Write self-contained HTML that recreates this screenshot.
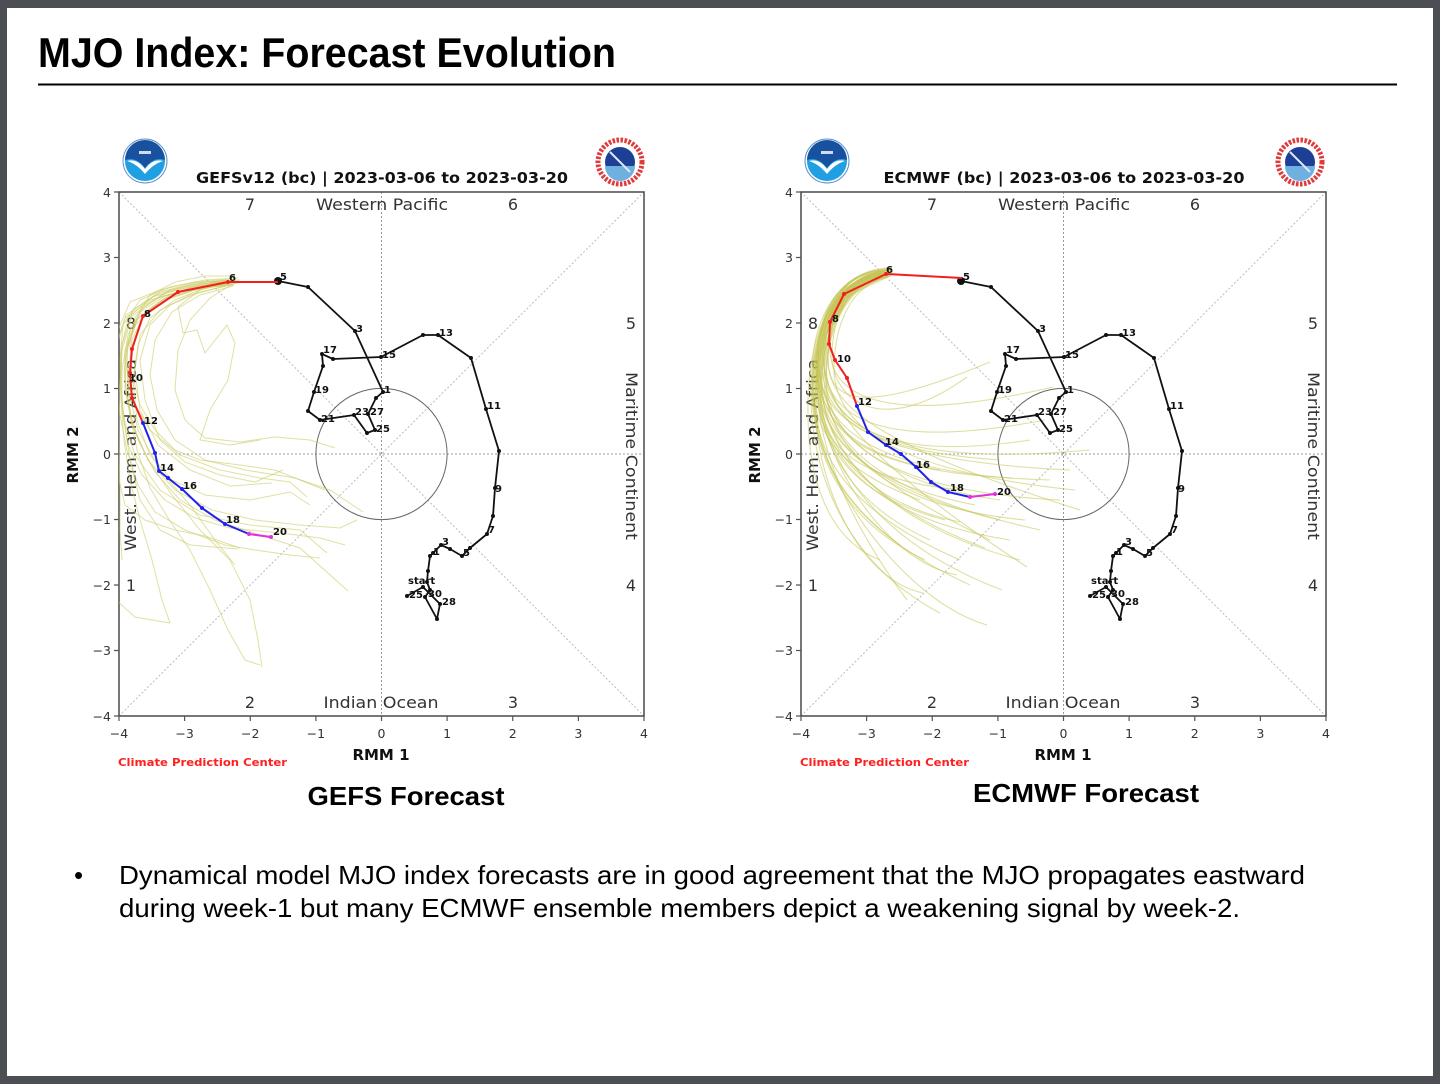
<!DOCTYPE html>
<html><head><meta charset="utf-8"><style>html,body{margin:0;padding:0;background:#4b4f53}svg{display:block}</style></head>
<body>
<svg width="1440" height="1084" viewBox="0 0 1440 1084" xmlns="http://www.w3.org/2000/svg">
<defs>
<clipPath id="cl"><rect x="119" y="192" width="525" height="524"/></clipPath>
<clipPath id="cr"><rect x="801" y="192" width="525" height="524"/></clipPath>
</defs>
<rect x="0" y="0" width="1440" height="1084" fill="#4b4f53"/>
<rect x="7" y="8" width="1426" height="1068" fill="#ffffff"/>

<text x="38" y="67" font-family="'Liberation Sans', Arial, sans-serif" font-weight="bold" font-size="42" textLength="578" lengthAdjust="spacingAndGlyphs" fill="#000">MJO Index: Forecast Evolution</text>
<line x1="38" y1="84.5" x2="1397" y2="84.5" stroke="#000" stroke-width="2"/>

<!-- ================= LEFT CHART FRAME ================= -->
<g font-family="'DejaVu Sans', 'Liberation Sans', sans-serif">
<line x1="381.5" y1="192" x2="381.5" y2="716" stroke="#999" stroke-width="1" stroke-dasharray="2,2"/>
<line x1="119" y1="454" x2="644" y2="454" stroke="#999" stroke-width="1" stroke-dasharray="2,2"/>
<line x1="119" y1="192" x2="644" y2="716" stroke="#bbb" stroke-width="1" stroke-dasharray="2,2"/>
<line x1="119" y1="716" x2="644" y2="192" stroke="#bbb" stroke-width="1" stroke-dasharray="2,2"/>
<circle cx="381.5" cy="454" r="65.6" fill="none" stroke="#666" stroke-width="1"/>
<rect x="119" y="192" width="525" height="524" fill="none" stroke="#555" stroke-width="1.6"/>
<path d="M119,716v5M184.6,716v5M250.25,716v5M315.9,716v5M381.5,716v5M447.1,716v5M512.75,716v5M578.4,716v5M644,716v5M119,192h-5M119,257.5h-5M119,323h-5M119,388.5h-5M119,454h-5M119,519.5h-5M119,585h-5M119,650.5h-5M119,716h-5" stroke="#555" stroke-width="1.2"/>
<g font-size="12.5" fill="#333" text-anchor="end">
<text x="111" y="197">4</text><text x="111" y="262">3</text><text x="111" y="328">2</text><text x="111" y="393">1</text><text x="111" y="459">0</text><text x="111" y="524">−1</text><text x="111" y="590">−2</text><text x="111" y="655">−3</text><text x="111" y="721">−4</text>
</g>
<g font-size="12.5" fill="#333" text-anchor="middle">
<text x="119" y="738">−4</text><text x="184.6" y="738">−3</text><text x="250.25" y="738">−2</text><text x="315.9" y="738">−1</text><text x="381.5" y="738">0</text><text x="447.1" y="738">1</text><text x="512.75" y="738">2</text><text x="578.4" y="738">3</text><text x="644" y="738">4</text>
</g>
<g font-size="16" fill="#333" text-anchor="middle">
<text x="250" y="210">7</text><text x="382" y="210" textLength="132" lengthAdjust="spacingAndGlyphs">Western Pacific</text><text x="513" y="210">6</text>
<text x="250" y="708">2</text><text x="381" y="708" textLength="115" lengthAdjust="spacingAndGlyphs">Indian Ocean</text><text x="513" y="708">3</text>
<text x="131" y="329">8</text><text x="131" y="591">1</text><text x="631" y="329">5</text><text x="631" y="591">4</text>
<text transform="translate(136,455) rotate(-90)" textLength="192" lengthAdjust="spacingAndGlyphs">West. Hem. and Africa</text>
<text transform="translate(626,456) rotate(90)" textLength="168" lengthAdjust="spacingAndGlyphs">Maritime Continent</text>
</g>
<text x="381" y="760" font-size="15" font-weight="bold" fill="#111" text-anchor="middle">RMM 1</text>
<text transform="translate(78,455) rotate(-90)" font-size="15" font-weight="bold" fill="#111" text-anchor="middle">RMM 2</text>
<text x="382" y="183" font-size="15" font-weight="bold" fill="#111" text-anchor="middle" textLength="372" lengthAdjust="spacingAndGlyphs">GEFSv12 (bc) | 2023-03-06 to 2023-03-20</text>
<text x="118" y="766" font-size="10.5" font-weight="bold" fill="#ff2020" textLength="169" lengthAdjust="spacingAndGlyphs">Climate Prediction Center</text>
</g>

<!-- ================= RIGHT CHART FRAME ================= -->
<g transform="translate(682,0)" font-family="'DejaVu Sans', 'Liberation Sans', sans-serif">
<line x1="381.5" y1="192" x2="381.5" y2="716" stroke="#999" stroke-width="1" stroke-dasharray="2,2"/>
<line x1="119" y1="454" x2="644" y2="454" stroke="#999" stroke-width="1" stroke-dasharray="2,2"/>
<line x1="119" y1="192" x2="644" y2="716" stroke="#bbb" stroke-width="1" stroke-dasharray="2,2"/>
<line x1="119" y1="716" x2="644" y2="192" stroke="#bbb" stroke-width="1" stroke-dasharray="2,2"/>
<circle cx="381.5" cy="454" r="65.6" fill="none" stroke="#666" stroke-width="1"/>
<rect x="119" y="192" width="525" height="524" fill="none" stroke="#555" stroke-width="1.6"/>
<path d="M119,716v5M184.6,716v5M250.25,716v5M315.9,716v5M381.5,716v5M447.1,716v5M512.75,716v5M578.4,716v5M644,716v5M119,192h-5M119,257.5h-5M119,323h-5M119,388.5h-5M119,454h-5M119,519.5h-5M119,585h-5M119,650.5h-5M119,716h-5" stroke="#555" stroke-width="1.2"/>
<g font-size="12.5" fill="#333" text-anchor="end">
<text x="111" y="197">4</text><text x="111" y="262">3</text><text x="111" y="328">2</text><text x="111" y="393">1</text><text x="111" y="459">0</text><text x="111" y="524">−1</text><text x="111" y="590">−2</text><text x="111" y="655">−3</text><text x="111" y="721">−4</text>
</g>
<g font-size="12.5" fill="#333" text-anchor="middle">
<text x="119" y="738">−4</text><text x="184.6" y="738">−3</text><text x="250.25" y="738">−2</text><text x="315.9" y="738">−1</text><text x="381.5" y="738">0</text><text x="447.1" y="738">1</text><text x="512.75" y="738">2</text><text x="578.4" y="738">3</text><text x="644" y="738">4</text>
</g>
<g font-size="16" fill="#333" text-anchor="middle">
<text x="250" y="210">7</text><text x="382" y="210" textLength="132" lengthAdjust="spacingAndGlyphs">Western Pacific</text><text x="513" y="210">6</text>
<text x="250" y="708">2</text><text x="381" y="708" textLength="115" lengthAdjust="spacingAndGlyphs">Indian Ocean</text><text x="513" y="708">3</text>
<text x="131" y="329">8</text><text x="131" y="591">1</text><text x="631" y="329">5</text><text x="631" y="591">4</text>
<text transform="translate(136,455) rotate(-90)" textLength="192" lengthAdjust="spacingAndGlyphs">West. Hem. and Africa</text>
<text transform="translate(626,456) rotate(90)" textLength="168" lengthAdjust="spacingAndGlyphs">Maritime Continent</text>
</g>
<text x="381" y="760" font-size="15" font-weight="bold" fill="#111" text-anchor="middle">RMM 1</text>
<text transform="translate(78,455) rotate(-90)" font-size="15" font-weight="bold" fill="#111" text-anchor="middle">RMM 2</text>
<text x="382" y="183" font-size="15" font-weight="bold" fill="#111" text-anchor="middle" textLength="361" lengthAdjust="spacingAndGlyphs">ECMWF (bc) | 2023-03-06 to 2023-03-20</text>
<text x="118" y="766" font-size="10.5" font-weight="bold" fill="#ff2020" textLength="169" lengthAdjust="spacingAndGlyphs">Climate Prediction Center</text>
</g>

<!-- ================= GEFS ENSEMBLE ================= -->
<g fill="none" stroke="#cccc66" stroke-width="1" stroke-opacity="0.6" clip-path="url(#cl)">
<polyline points="236,279 200,286 165,296 140,312 128,340 124,372 128,405 138,440 155,472 180,500 215,520 260,535 300,548 348,591"/>
<polyline points="232,283 195,290 160,302 135,325 125,355 126,390 133,425 148,460 172,495 200,530 230,560 250,600 258,640 262,667"/>
<polyline points="228,281 190,285 155,295 128,318 121,350 120,385 125,425 130,460 140,500 160,530 190,545 238,549"/>
<polyline points="240,280 205,282 170,290 145,305 130,330 126,365 132,400 150,430 180,455 220,470 260,478 290,482 307,497"/>
<polyline points="234,284 200,292 170,305 150,325 140,360 145,400 160,440 185,462 220,475 255,482 283,470"/>
<polyline points="230,280 195,283 160,292 133,310 122,345 121,385 124,420 135,455 160,490 200,515 250,525 300,530 327,553"/>
<polyline points="226,286 190,295 160,310 140,335 135,370 140,410 158,445 190,470 230,486 272,483"/>
<polyline points="238,278 205,280 170,287 140,300 123,325 120,360 121,400 124,440 130,480 140,520 152,560 162,600 170,623"/>
<polyline points="233,286 200,295 172,312 155,340 150,375 157,410 175,440 205,460 245,470 295,478 330,490 363,512"/>
<polyline points="229,284 195,290 162,300 137,320 125,350 125,388 132,425 148,460 175,490 212,510 255,520 300,525 340,528 357,520"/>
<polyline points="232,282 200,290 178,307 183,333 197,330 205,353 227,325 235,343 228,380 210,410 200,440 230,445 260,440"/>
<polyline points="236,282 210,298 190,320 178,350 175,390 185,420 205,438 240,442 275,437 310,440 335,448"/>
<polyline points="231,279 195,282 160,290 130,302 118,330 118,370 118,410 119,450 120,490 120,530 122,560"/>
<polyline points="234,285 200,288 165,298 138,318 127,350 128,390 138,430 160,470 190,505 215,540 235,565"/>
<polyline points="227,283 190,288 158,298 132,316 122,350 119,395 119,440 119,480 125,505 145,520 175,530 205,536 240,548"/>
<polyline points="237,281 200,284 168,292 142,308 128,335 122,370 122,410 128,445 142,475 165,500 195,518 230,528 280,533 320,538 345,545"/>
<polyline points="225,280 195,286 168,296 145,312 132,340 128,375 130,415 137,450 150,488 168,518 190,550 210,590 228,630 245,660 260,665"/>
<polyline points="239,283 205,288 175,300 150,318 138,345 133,380 137,420 150,455 172,480 205,495 250,500 290,492 310,505"/>
<polyline points="224,284 185,290 150,300 125,318 116,345 112,420 112,520 116,600 135,617 170,623"/>
<polyline points="230,282 190,287 152,297 126,315 117,345 117,380 120,415 127,450 138,485 155,512 185,530 225,545 255,550 290,555 320,558"/>
<polyline points="235,276 205,276 175,282 150,295 135,318 130,345 132,375 140,405 155,430 175,450 200,460 240,465 275,470 300,480 325,490"/>
</g>

<!-- ================= ECMWF ENSEMBLE ================= -->
<g fill="none" stroke="#c4c455" stroke-width="1.1" stroke-opacity="0.55" clip-path="url(#cr)">
<path d="M888,272 L846,292 L832,320" stroke-width="10" stroke-linecap="round" stroke-opacity="0.45"/>
<path d="M884,272 C848,276 816,310 816,370 S850,500 960,522"/>
<path d="M890,270 C852,272 822,305 820,360 S860,480 1000,500"/>
<path d="M880,276 C845,282 812,320 812,395 S900,600 987,625"/>
<path d="M887,268 C850,270 825,300 823,350 S855,455 1027,567"/>
<path d="M882,274 C846,278 818,312 817,380 S880,560 957,575"/>
<path d="M889,276 C855,282 830,310 828,355 S860,440 1080,510"/>
<path d="M885,271 C850,274 815,315 815,400 S860,580 923,593"/>
<path d="M881,278 C848,284 820,320 818,385 S855,530 907,600"/>
<path d="M888,273 C854,276 832,300 830,345 S870,430 1053,387"/>
<path d="M883,270 C846,272 818,308 818,365 S845,470 990,540"/>
<path d="M886,275 C852,280 826,312 824,372 S860,490 1040,530"/>
<path d="M879,273 C842,278 810,318 808,400 S830,540 880,560"/>
<path d="M891,272 C856,275 830,300 828,350 S850,420 990,362"/>
<path d="M885,277 C850,283 822,320 821,390 S880,520 1010,540"/>
<path d="M887,269 C850,270 820,300 818,355 S850,460 1070,470"/>
<path d="M882,275 C845,280 816,318 814,385 S845,510 960,560"/>
<path d="M889,271 C853,273 826,305 824,360 S870,470 1090,450"/>
<path d="M884,273 C846,277 812,315 811,390 S840,560 940,613"/>
<path d="M880,271 C843,274 818,308 817,368 S848,480 975,505"/>
<path d="M886,278 C852,284 828,318 826,378 S870,505 1025,520"/>
<path d="M890,274 C856,278 834,305 832,352 S880,440 967,377"/>
<path d="M883,276 C847,281 820,318 819,382 S852,505 930,540"/>
<path d="M885,270 C848,272 820,305 819,362 S860,475 1050,480"/>
<path d="M881,274 C844,278 814,314 813,380 S835,500 900,545"/>
<path d="M888,276 C854,281 828,315 826,372 S865,490 1060,500"/>
<path d="M884,272 C848,275 820,310 818,370 S855,485 1000,520"/>
<path d="M886,274 C850,278 823,312 821,375 S870,520 1020,560"/>
<path d="M882,270 C845,272 818,305 817,360 S848,455 940,470"/>
<path d="M889,273 C853,276 828,306 826,360 S868,465 1030,440"/>
<path d="M880,277 C846,283 818,322 816,392 S850,530 970,585"/>
<path d="M887,271 C851,274 824,306 822,358 S852,450 1000,460"/>
<path d="M883,278 C849,284 823,322 822,380 S858,500 985,548"/>
<path d="M885,275 C849,279 819,314 817,378 S850,495 945,520"/>
<path d="M878,272 C842,276 813,312 812,372 S838,470 920,500"/>
<path d="M891,276 C858,282 836,312 834,365 S880,470 1075,490"/>
<path d="M886,272 C850,276 822,308 820,366 S850,470 1012,478"/>
<path d="M882,273 C846,277 816,312 815,375 S846,480 963,490"/>
<path d="M889,270 C853,272 826,302 824,355 S862,455 1045,420"/>
<path d="M884,276 C849,281 821,318 820,385 S870,540 1002,590"/>
<path d="M880,275 C844,279 815,316 813,385 S842,520 925,560"/>
</g>

<!-- ================= OBSERVED PATH LEFT ================= -->
<g id="obsL">
<polyline fill="none" stroke="#111" stroke-width="1.8" stroke-linejoin="round" points="407,596 423,587 440,604 437,619 425,597 430,590 427,582 428,571 430,556 433,553 441,545 450,549 462,556 470,548 487,534 493,516 495,488 499,451 486,409 471,358 438,335 423,335 381,357 333,359 322,354 323,366 314,392 308,411 320,420 354,415 367,433 375,430 368,414 376,398 383,392 355,331 308,287 278,281"/>
<g fill="#111">
<circle cx="407" cy="596" r="2"/><circle cx="423" cy="587" r="2"/><circle cx="440" cy="604" r="2"/><circle cx="437" cy="619" r="2"/><circle cx="425" cy="597" r="2"/><circle cx="430" cy="590" r="2"/><circle cx="427" cy="582" r="2"/><circle cx="428" cy="571" r="2"/><circle cx="430" cy="556" r="2"/><circle cx="433" cy="553" r="2"/><circle cx="441" cy="545" r="2"/><circle cx="450" cy="549" r="2"/><circle cx="462" cy="556" r="2"/><circle cx="470" cy="548" r="2"/><circle cx="487" cy="534" r="2"/><circle cx="493" cy="516" r="2"/><circle cx="495" cy="488" r="2"/><circle cx="499" cy="451" r="2"/><circle cx="486" cy="409" r="2"/><circle cx="471" cy="358" r="2"/><circle cx="438" cy="335" r="2"/><circle cx="423" cy="335" r="2"/><circle cx="381" cy="357" r="2"/><circle cx="333" cy="359" r="2"/><circle cx="322" cy="354" r="2"/><circle cx="323" cy="366" r="2"/><circle cx="314" cy="392" r="2"/><circle cx="308" cy="411" r="2"/><circle cx="320" cy="420" r="2"/><circle cx="354" cy="415" r="2"/><circle cx="367" cy="433" r="2"/><circle cx="375" cy="430" r="2"/><circle cx="368" cy="414" r="2"/><circle cx="376" cy="398" r="2"/><circle cx="383" cy="392" r="2"/><circle cx="355" cy="331" r="2"/><circle cx="308" cy="287" r="2"/><circle cx="278" cy="281" r="4"/>
</g>
<g font-family="'DejaVu Sans', sans-serif" font-size="10" font-weight="bold" fill="#111">
<text x="408" y="584">start</text><text x="409" y="598">25</text><text x="428" y="597">30</text><text x="442" y="605">28</text>
<text x="433" y="555">1</text><text x="442" y="545">3</text><text x="463" y="556">5</text><text x="488" y="533">7</text><text x="495" y="492">9</text>
<text x="487" y="409">11</text><text x="439" y="336">13</text><text x="382" y="358">15</text><text x="323" y="353">17</text><text x="315" y="393">19</text>
<text x="321" y="422">21</text><text x="355" y="415">23</text><text x="370" y="415">27</text><text x="376" y="432">25</text><text x="384" y="393">1</text>
<text x="356" y="332">3</text><text x="280" y="280">5</text>
</g>
</g>

<!-- ================= OBSERVED PATH RIGHT ================= -->
<g transform="translate(683,0)">
<polyline fill="none" stroke="#111" stroke-width="1.8" stroke-linejoin="round" points="407,596 423,587 440,604 437,619 425,597 430,590 427,582 428,571 430,556 433,553 441,545 450,549 462,556 470,548 487,534 493,516 495,488 499,451 486,409 471,358 438,335 423,335 381,357 333,359 322,354 323,366 314,392 308,411 320,420 354,415 367,433 375,430 368,414 376,398 383,392 355,331 308,287 278,281"/>
<g fill="#111">
<circle cx="407" cy="596" r="2"/><circle cx="423" cy="587" r="2"/><circle cx="440" cy="604" r="2"/><circle cx="437" cy="619" r="2"/><circle cx="425" cy="597" r="2"/><circle cx="430" cy="590" r="2"/><circle cx="427" cy="582" r="2"/><circle cx="428" cy="571" r="2"/><circle cx="430" cy="556" r="2"/><circle cx="433" cy="553" r="2"/><circle cx="441" cy="545" r="2"/><circle cx="450" cy="549" r="2"/><circle cx="462" cy="556" r="2"/><circle cx="470" cy="548" r="2"/><circle cx="487" cy="534" r="2"/><circle cx="493" cy="516" r="2"/><circle cx="495" cy="488" r="2"/><circle cx="499" cy="451" r="2"/><circle cx="486" cy="409" r="2"/><circle cx="471" cy="358" r="2"/><circle cx="438" cy="335" r="2"/><circle cx="423" cy="335" r="2"/><circle cx="381" cy="357" r="2"/><circle cx="333" cy="359" r="2"/><circle cx="322" cy="354" r="2"/><circle cx="323" cy="366" r="2"/><circle cx="314" cy="392" r="2"/><circle cx="308" cy="411" r="2"/><circle cx="320" cy="420" r="2"/><circle cx="354" cy="415" r="2"/><circle cx="367" cy="433" r="2"/><circle cx="375" cy="430" r="2"/><circle cx="368" cy="414" r="2"/><circle cx="376" cy="398" r="2"/><circle cx="383" cy="392" r="2"/><circle cx="355" cy="331" r="2"/><circle cx="308" cy="287" r="2"/><circle cx="278" cy="281" r="4"/>
</g>
<g font-family="'DejaVu Sans', sans-serif" font-size="10" font-weight="bold" fill="#111">
<text x="408" y="584">start</text><text x="409" y="598">25</text><text x="428" y="597">30</text><text x="442" y="605">28</text>
<text x="433" y="555">1</text><text x="442" y="545">3</text><text x="463" y="556">5</text><text x="488" y="533">7</text><text x="495" y="492">9</text>
<text x="487" y="409">11</text><text x="439" y="336">13</text><text x="382" y="358">15</text><text x="323" y="353">17</text><text x="315" y="393">19</text>
<text x="321" y="422">21</text><text x="355" y="415">23</text><text x="370" y="415">27</text><text x="376" y="432">25</text><text x="384" y="393">1</text>
<text x="356" y="332">3</text><text x="280" y="280">5</text>
</g>
</g>

<!-- ================= GEFS FORECAST MEAN ================= -->
<g fill="none" stroke-width="2" stroke-linejoin="round">
<polyline stroke="#f02020" points="278,282 228,282 178,292 143,316 132,349 130,373 132,398 143,423"/>
<polyline stroke="#2222ee" points="143,423 155,453 159,471 168,478 182,489 202,508 225,524 249,534"/>
<polyline stroke="#e030e0" points="249,534 271,537"/>
</g>
<g>
<g fill="#f02020"><circle cx="228" cy="282" r="2"/><circle cx="178" cy="292" r="2"/><circle cx="143" cy="316" r="2"/><circle cx="132" cy="349" r="2"/><circle cx="130" cy="373" r="2"/><circle cx="132" cy="398" r="2"/></g>
<g fill="#2222ee"><circle cx="143" cy="423" r="2"/><circle cx="155" cy="453" r="2"/><circle cx="159" cy="471" r="2"/><circle cx="168" cy="478" r="2"/><circle cx="182" cy="489" r="2"/><circle cx="202" cy="508" r="2"/><circle cx="225" cy="524" r="2"/></g>
<g fill="#e030e0"><circle cx="249" cy="534" r="2"/><circle cx="271" cy="537" r="2"/></g>
</g>
<g font-family="'DejaVu Sans', sans-serif" font-size="10" font-weight="bold" fill="#111">
<text x="229" y="281">6</text><text x="144" y="317">8</text><text x="129" y="381">10</text><text x="144" y="424">12</text><text x="160" y="471">14</text><text x="183" y="489">16</text><text x="226" y="523">18</text><text x="273" y="535">20</text>
</g>

<!-- ================= ECMWF FORECAST MEAN ================= -->
<g fill="none" stroke-width="2" stroke-linejoin="round">
<polyline stroke="#f02020" points="962,278 886,274 844,294 830,322 829,344 835,360 847,378 857,406"/>
<polyline stroke="#2222ee" points="857,406 868,432 886,445 901,454 916,467 931,482 948,492 970,497"/>
<polyline stroke="#e030e0" points="970,497 995,494"/>
</g>
<g>
<g fill="#f02020"><circle cx="886" cy="274" r="2"/><circle cx="844" cy="294" r="2"/><circle cx="830" cy="322" r="2"/><circle cx="829" cy="344" r="2"/><circle cx="835" cy="360" r="2"/><circle cx="847" cy="378" r="2"/></g>
<g fill="#2222ee"><circle cx="857" cy="406" r="2"/><circle cx="868" cy="432" r="2"/><circle cx="886" cy="445" r="2"/><circle cx="901" cy="454" r="2"/><circle cx="916" cy="467" r="2"/><circle cx="931" cy="482" r="2"/><circle cx="948" cy="492" r="2"/></g>
<g fill="#e030e0"><circle cx="970" cy="497" r="2"/><circle cx="995" cy="494" r="2"/></g>
</g>
<g font-family="'DejaVu Sans', sans-serif" font-size="10" font-weight="bold" fill="#111">
<text x="886" y="273">6</text><text x="832" y="322">8</text><text x="837" y="362">10</text><text x="858" y="405">12</text><text x="885" y="445">14</text><text x="916" y="468">16</text><text x="950" y="491">18</text><text x="997" y="495">20</text>
</g>

<!-- ================= LOGOS ================= -->
<g transform="translate(145,161)">
<circle r="22" fill="#ffffff" stroke="#5a8fc8" stroke-width="1"/>
<circle r="20" fill="#20a0e2"/>
<path d="M-20,-1 A20,20 0 0,1 20,-1 Q9,-5 0,7 Q-9,-5 -20,-1 Z" fill="#17519f"/>
<path d="M-18,0 Q-8,-3 0,8 Q8,-3 18,0 Q8,3 0,13 Q-8,3 -18,0 Z" fill="#ffffff"/>
<rect x="-6" y="-10" width="12" height="3" fill="#ffffff" opacity="0.8"/>
</g>
<g transform="translate(827,161)">
<circle r="22" fill="#ffffff" stroke="#5a8fc8" stroke-width="1"/>
<circle r="20" fill="#20a0e2"/>
<path d="M-20,-1 A20,20 0 0,1 20,-1 Q9,-5 0,7 Q-9,-5 -20,-1 Z" fill="#17519f"/>
<path d="M-18,0 Q-8,-3 0,8 Q8,-3 18,0 Q8,3 0,13 Q-8,3 -18,0 Z" fill="#ffffff"/>
<rect x="-6" y="-10" width="12" height="3" fill="#ffffff" opacity="0.8"/>
</g>
<g transform="translate(620,162)">
<circle r="22" fill="none" stroke="#e03a3a" stroke-width="5" stroke-dasharray="2.5,1.5"/>
<circle r="15" fill="#1d3f95"/>
<path d="M-15,4 A15,15 0 0,0 15,4 Z" fill="#6fb0e0"/>
<path d="M-10,-10 L10,10" stroke="#dfe8f5" stroke-width="2"/>
</g>
<g transform="translate(1300,162)">
<circle r="22" fill="none" stroke="#e03a3a" stroke-width="5" stroke-dasharray="2.5,1.5"/>
<circle r="15" fill="#1d3f95"/>
<path d="M-15,4 A15,15 0 0,0 15,4 Z" fill="#6fb0e0"/>
<path d="M-10,-10 L10,10" stroke="#dfe8f5" stroke-width="2"/>
</g>

<!-- ================= CAPTIONS ================= -->
<g font-family="'Liberation Sans', Arial, sans-serif" fill="#000">
<text x="406" y="805" font-size="26" font-weight="bold" text-anchor="middle" textLength="197" lengthAdjust="spacingAndGlyphs">GEFS Forecast</text>
<text x="1086" y="802" font-size="26" font-weight="bold" text-anchor="middle" textLength="226" lengthAdjust="spacingAndGlyphs">ECMWF Forecast</text>
<text x="74" y="884" font-size="26">•</text>
<text x="119" y="884" font-size="26" textLength="1186" lengthAdjust="spacingAndGlyphs">Dynamical model MJO index forecasts are in good agreement that the MJO propagates eastward</text>
<text x="119" y="917" font-size="26" textLength="1121" lengthAdjust="spacingAndGlyphs">during week-1 but many ECMWF ensemble members depict a weakening signal by week-2.</text>
</g>
</svg>
</body></html>
